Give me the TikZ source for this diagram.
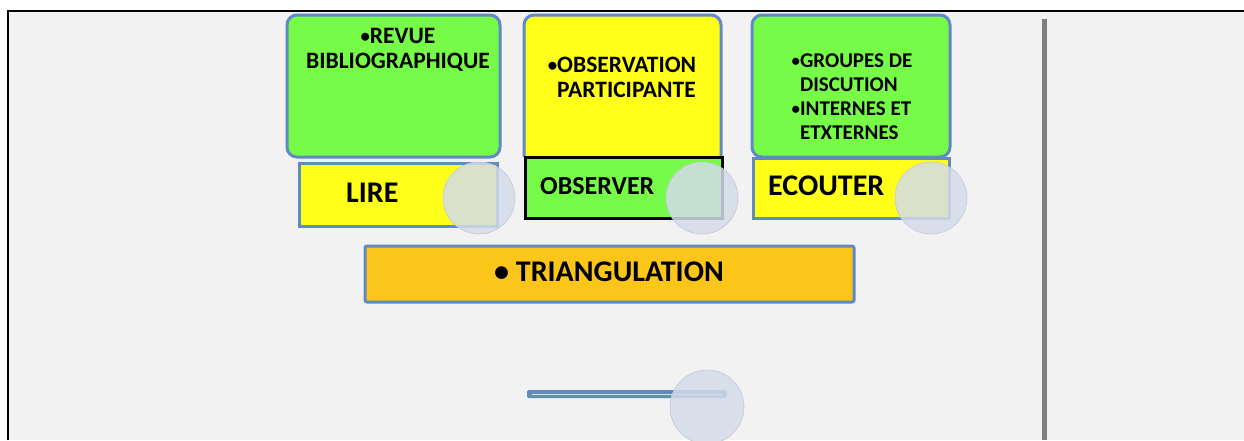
\documentclass[tikz,border=0pt]{standalone}
\usepackage{fontspec}
\usepackage{graphicx}
\setmainfont{Carlito}
\definecolor{bgray}{HTML}{F2F2F2}
\definecolor{lgreen}{HTML}{76FB48}
\definecolor{lyellow}{HTML}{FFFF1A}
\definecolor{lorange}{HTML}{FBC519}
\definecolor{bborder}{HTML}{5F8AC3}
\definecolor{knob}{HTML}{D4DCE9}
\definecolor{vbar}{HTML}{808080}
\newcommand\smbul{\raisebox{1pt}{\scalebox{0.8}{•}}}
\newcommand\smind{\phantom{\smbul}}
\tikzset{
  box/.style={draw=bborder, line width=3pt, inner sep=0pt},
  txt/.style={font=\bfseries\fontsize{23.5}{25}\selectfont, align=center, inner sep=0pt, text=black},
  big/.style={font=\bfseries\fontsize{30}{32}\selectfont, inner sep=0pt, text=black},
  knobc/.style={circle, fill=knob, fill opacity=0.85, draw=knob!80!gray, line width=0.6pt, minimum size=72pt, inner sep=0pt}
}
\begin{document}
\begin{tikzpicture}[x=1pt,y=-1pt]
\useasboundingbox (0,0) rectangle (1244,440);
\fill[white] (0,0) rectangle (1244,440);
\fill[bgray] (8,11) rectangle (1244,440);
\draw[black, line width=2.5pt] (8,440) -- (8,11) -- (1244,11);
\fill[vbar] (1042,19) rectangle (1047,440);

% box 1
\draw[box, fill=lgreen, rounded corners=10pt] (287,15) rectangle (500,157);
\node[box, fill=lyellow, minimum width=198pt, minimum height=63pt, anchor=north west] (lire) at (298,162) {};
\node[txt] (revue) at (398,50) {\smbul REVUE\\BIBLIOGRAPHIQUE};
\node[big, anchor=west] (lirel) at (346,193) {LIRE};
\node[knobc] (k1) at (479,198) {};

% box 2
\draw[box, fill=lyellow, rounded corners=10pt] (524,157) -- (524,15) -- (721,15) -- (721,157);
\node[draw=black, fill=lgreen, line width=3pt, minimum width=197pt, minimum height=61pt, anchor=north west, inner sep=0pt] (obs) at (524,156) {};
\node[txt, align=left] (obst) at (622,77) {\smbul OBSERVATION\\\smind PARTICIPANTE};
\node[big, font=\bfseries\fontsize{26}{30}\selectfont, anchor=west] (obsl) at (540,186) {OBSERVER};
\node[knobc] (k2) at (702,198) {};

% box 3
\draw[box, fill=lgreen, rounded corners=10pt] (752,157) -- (752,15) -- (950,15) -- (950,157) -- cycle;
\node[box, fill=lyellow, minimum width=196pt, minimum height=60pt, anchor=north west] (ecou) at (752,157) {};
\node[txt, font=\bfseries\fontsize{21}{24}\selectfont, align=left] (grp) at (852,97) {\smbul GROUPES DE\\\smind DISCUTION\\\smbul INTERNES ET\\\smind ETXTERNES};
\node[big, anchor=west] (ecoul) at (768,186) {ECOUTER};
\node[knobc] (k3) at (931,198) {};

% triangulation
\node[box, fill=lorange, minimum width=489pt, minimum height=56pt, rounded corners=2pt] (tri) at (609.5,274) {};
\node[big] (tril) at (609,272) {• TRIANGULATION};

% slider
\node[fill=bborder, minimum width=200pt, minimum height=8pt, inner sep=0pt, rounded corners=2pt] (bar) at (627,394) {};
\draw[lyellow!25!bborder!30!white, line width=0.5pt] (bar.west) ++(5,0) -- ([xshift=-5pt]bar.east);
\node[knobc, minimum size=74pt] (k4) at (707,407) {};
\end{tikzpicture}
\end{document}
